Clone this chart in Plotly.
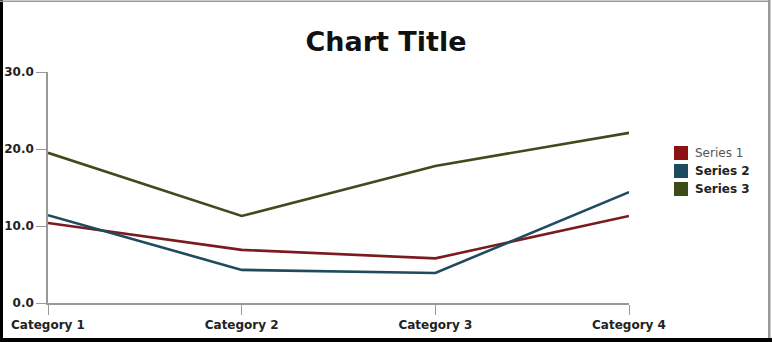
import plotly.graph_objects as go

categories = ["Category 1", "Category 2", "Category 3", "Category 4"]
series1 = [10.4, 6.9, 5.8, 11.3]
series2 = [11.4, 4.3, 3.9, 14.4]
series3 = [19.5, 11.3, 17.8, 22.1]
series_names = ["Series 1", "Series 2", "Series 3"]
y_ticks = [0, 10, 20, 30]

W, H = 772, 342
ML, MR, MT, MB = 48, 143, 72, 39
PW, PH = W - ML - MR, H - MT - MB

def px(x):
    return (x - ML) / PW

def py(y):
    return (H - MB - y) / PH

line_colors = ["#7b1a1f", "#1f4b5c", "#3f4b1c"]
legend_colors = ["#8a1214", "#1a4b5e", "#3b4c17"]
font = "DejaVu Sans, Verdana, sans-serif"

fig = go.Figure()
for name, vals, col in zip(series_names, [series1, series2, series3], line_colors):
    fig.add_trace(go.Scatter(x=categories, y=vals, mode="lines", name=name,
                             line=dict(color=col, width=2.6), showlegend=False, cliponaxis=False))

shapes = []
# frame: black left/bottom, thin gray top/right
shapes.append(dict(type="rect", xref="paper", yref="paper", x0=px(0), x1=px(3), y0=py(0), y1=py(342),
                   fillcolor="#000", line=dict(width=0), layer="above"))
shapes.append(dict(type="rect", xref="paper", yref="paper", x0=px(0), x1=px(772), y0=py(338), y1=py(342),
                   fillcolor="#000", line=dict(width=0), layer="above"))
shapes.append(dict(type="rect", xref="paper", yref="paper", x0=px(768), x1=px(770.5), y0=py(0), y1=py(338),
                   fillcolor="#999", line=dict(width=0), layer="above"))
shapes.append(dict(type="rect", xref="paper", yref="paper", x0=px(0), x1=px(770), y0=py(0.5), y1=py(2),
                   fillcolor="#999", line=dict(width=0), layer="above"))

annotations = []
legend_rows = [153, 171, 189]
for name, col, ry, i in zip(series_names, legend_colors, legend_rows, range(3)):
    shapes.append(dict(type="rect", xref="paper", yref="paper", x0=px(674), x1=px(688),
                       y0=py(ry - 7), y1=py(ry + 7), fillcolor=col, line=dict(width=0)))
    txt = name if i == 0 else "<b>" + name + "</b>"
    annotations.append(dict(xref="paper", yref="paper", x=px(693), y=py(ry), text=txt,
                            showarrow=False, xanchor="left", yanchor="middle",
                            font=dict(family=font, size=12, color="#555" if i == 0 else "#222")))

fig.update_layout(
    width=W, height=H,
    margin=dict(l=ML, r=MR, t=MT, b=MB, autoexpand=False),
    paper_bgcolor="white", plot_bgcolor="white",
    title=dict(text="<b>Chart Title</b>", x=0.5, xref="container", xanchor="center",
               y=1 - 42 / H, yref="container", yanchor="middle",
               font=dict(family=font, size=27, color="#111")),
    font=dict(family=font, size=12, color="#222"),
    shapes=shapes, annotations=annotations,
    xaxis=dict(type="category", range=[0, 3], showgrid=False, zeroline=False, automargin=False,
               showline=True, linecolor="#999", linewidth=1.5,
               ticks="outside", ticklen=10, tickcolor="#999", tickwidth=1,
               tickfont=dict(family=font, size=12, color="#222", weight="bold")),
    yaxis=dict(range=[0, 30], tickvals=y_ticks, tickformat=".1f", showgrid=False, zeroline=False,
               automargin=False,
               showline=True, linecolor="#999", linewidth=1.5,
               ticks="outside", ticklen=10, tickcolor="#999", tickwidth=1,
               tickfont=dict(family=font, size=12, color="#222", weight="bold")),
)

fig.write_html("out.html")
